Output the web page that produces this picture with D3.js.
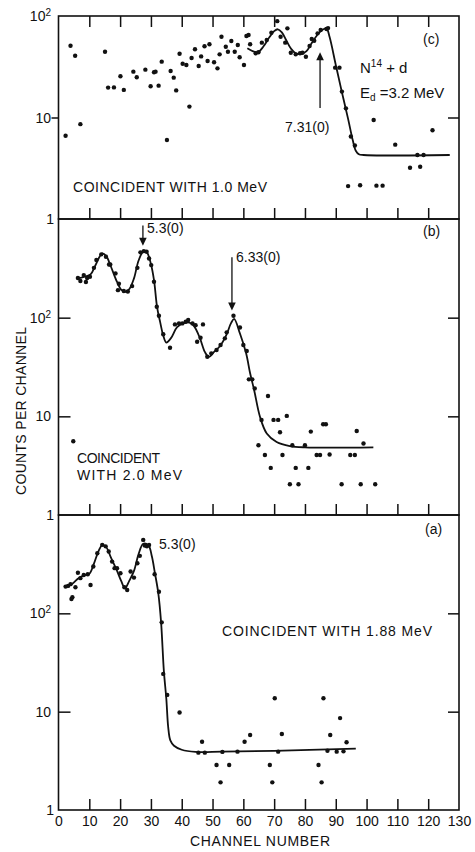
<!DOCTYPE html>
<html>
<head>
<meta charset="utf-8">
<script src="https://cdn.jsdelivr.net/npm/d3@7"></script>
<style>
  body { margin: 0; background: #fff; }
  svg { display: block; }
  text { font-family: "Liberation Sans", Arial, sans-serif; fill: #111; }
</style>
</head>
<body>
<svg id="chart" width="475" height="852"></svg>
<script>
// ---- data: [channel, counts per channel] ----
const channelTicks = [0, 10, 20, 30, 40, 50, 60, 70, 80, 90, 100, 110, 120, 130];
const innerTicks = [10, 20, 30, 40, 50, 60, 70, 80, 90, 100, 110, 120];

// (c) coincident with 1.0 MeV
const pointsC = [
  [2.3,6.6],[3.9,51],[5.4,40.6],[7.1,8.6],[15.1,44.5],[16.1,19.7],[18,19.8],[20.1,25.5],[21.2,18.7],
  [24.3,28.3],[25.4,24.9],[28.2,29.6],[29.9,20.3],[31,27.9],[31.5,28.3],[32.5,20.6],[33.5,35.5],
  [35.2,6.0],[36.4,28.7],[37.4,24.7],[38.2,18.5],[39.3,42.5],[40.3,33.9],[41.5,32.9],[42.5,12.8],
  [43.2,38.6],[44.3,47],[45.5,32.2],[46.3,40],[47.4,50.3],[48.4,36],[49,52.6],[50.5,35],[51.6,30.5],
  [52.3,41.9],[52.9,62.5],[54.3,49.8],[55,44.5],[56.1,56.7],[57.2,44.5],[58.2,51.8],[58.8,39.2],
  [60.2,32.9],[61,63.5],[61.7,65],[62.2,52.6],[64,42.9],[64.9,43.9],[66,54.6],[67.6,58],[69.1,68.5],
  [71,89],[72.1,62.5],[73.6,54.6],[74.3,75.6],[75.4,43.5],[77,41.9],[78.4,43],[79.2,43.5],[80.3,39.7],
  [81.5,50.6],[82.2,59.3],[83,57],[84.1,67.5],[85.1,72.8],[87,74.5],[87.5,76],[89.8,31],[91.2,31],
  [92,18],[93.3,12.3],[94.9,6.5],[96.2,5.3],[94,2.11],[97.9,2.15],[103.2,2.13],[105.2,2.13],
  [102.3,9.45],[109.3,5.4],[114.1,3.2],[117.4,3.27],[116.5,4.27],[118.5,4.27],[121.4,7.5]
];
const curveC = [
  [61.3,48],[63,45],[64.8,44],[66.5,50],[68.5,62],[70,71],[71.2,74],[72.5,69],[74,57],[75.5,47.5],
  [77,43],[79,42.5],[80.5,45],[82,53],[84,65],[85.8,73.5],[87,75.5],[88,62],[90,33],[92,17.7],
  [94,9.7],[95.5,6.0],[96.5,4.7],[97.5,4.35],[99,4.27],[127,4.27]
];

// (b) coincident with 2.0 MeV
const pointsB = [
  [4.8,5.6],[6.3,252],[7.1,235],[8.2,270],[8.9,230],[9.3,252],[10.2,260],[11.5,320],[12.3,384],
  [13.9,438],[15.4,414],[16.4,346],[16.8,346],[18.5,281],[19.6,221],[19.3,190],[21.2,186],[22.5,184],
  [23.9,209],[25.6,320],[26.6,459],[27.7,473],[28.6,467],[29.4,398],[30.1,341],[31,231],[31.9,129],
  [32.6,104.5],[34,67.8],[36.2,49.5],[37.8,85.5],[39.1,87.5],[40.2,87.5],[41.3,91],[42.1,94.6],
  [43.5,87.5],[44.5,84],[46.9,85.5],[45,57],[46.1,62.6],[48.3,40.2],[49.6,43.5],[51.3,47],[52.6,52.8],
  [54,61.7],[54.6,71],[56.8,104.5],[58.9,79.5],[60,52.8],[61.1,45.9],[61.8,23.7],[62.9,23.7],
  [63.7,19.2],[65.9,9.2],[68,16.1],[64.9,5.1],[67,4.05],[68.9,3.0],[69.8,9.2],[71.3,9.2],[72.7,4.05],
  [71.9,6.9],[74.1,10.1],[75.1,2.05],[75.9,5.1],[77,3.0],[77.9,2.05],[80,5.1],[81.1,3.0],[81.9,7.0],
  [83.8,4.05],[84.9,4.05],[85.9,8.3],[86.8,8.3],[88,4.1],[91.9,2.05],[94.7,4.05],[96.2,4.05],
  [96.8,7.1],[98.1,2.05],[99,5.3],[102.8,2.05]
];
const curveB = [
  [6,250],[8,258],[10.4,275],[12,340],[14.2,448],[15.5,420],[17,330],[19,230],[20.5,190],[21.8,183],
  [23,195],[24.5,250],[26,380],[27.5,465],[28.8,450],[30,350],[31,240],[32,128],[33,90],[34,66],
  [35,56],[36.5,62],[38.5,80],[40.7,88],[42.5,89],[44,82],[45.9,62],[47.5,45],[48.8,40],[50.5,45],
  [52.5,52],[54.5,67],[56,88],[57,97],[58.9,69],[60.9,43.5],[62.2,27.3],[63.5,18.5],[65.4,9.9],
  [67.6,6.7],[70.8,5.5],[75.1,5.0],[80,4.85],[102.2,4.85]
];

// (a) coincident with 1.88 MeV
const pointsA = [
  [2.3,187],[3.1,190],[3.9,198],[4.2,140],[4.5,146],[5.5,184],[6.3,259],[7.1,228],[8.2,245],[9.5,250],
  [10.4,194],[11.3,299],[12.6,408],[14.2,497],[15.3,480],[16.3,425],[17.4,336],[18.2,288],[19,288],
  [20.1,256],[21.4,184],[22.3,173],[23.4,266],[24.5,231],[25.6,323],[26.4,384],[27.5,558],[28,490],
  [28.7,480],[29.4,495],[31.2,250],[32.6,166],[33.5,81],[34,24.2],[35.3,14.8],[39.3,9.8],[46.6,4.95],
  [45.4,3.83],[47.5,3.83],[51.3,2.87],[55.4,2.87],[52.6,1.91],[53.2,3.9],[58.1,3.92],[60.4,4.95],
  [62.2,5.8],[68.6,2.87],[69.4,1.91],[70.2,13.7],[71.3,3.92],[72.5,5.93],[84.4,2.87],[85.4,1.91],
  [86,13.7],[87.3,4.0],[88.2,5.8],[90.3,3.92],[91.4,8.6],[92.5,3.95],[93.5,4.89]
];
const curveA = [
  [2.3,185],[4.5,200],[6.5,228],[8.5,245],[10,252],[11.5,320],[13,430],[14.2,495],[15.5,470],
  [17,370],[18.8,280],[20.3,215],[21.6,180],[23,215],[24.5,270],[26,400],[27.5,510],[29.2,490],
  [30.3,380],[31.3,256],[32.4,160],[33.3,81],[34.2,26],[35,13.5],[35.6,7.0],[36.3,5.1],[37.5,4.5],
  [40,4.1],[44.5,3.9],[53,3.92],[70,4.0],[96.5,4.2]
];

// level markers: channel, tail and tip in counts
const arrowsC = [{ ch: 84.9, from: 12.4, to: 44, label: "7.31(0)" }];
const arrowsB = [
  { ch: 27.4, from: 860, to: 535, label: "5.3(0)" },
  { ch: 56.3, from: 410, to: 118, label: "6.33(0)" }
];

// ---- layout ----
const svg = d3.select("#chart");
const left = 58.5, right = 459;
const x = d3.scaleLinear().domain([0, 130]).range([left, right]);

const panels = [
  { id: "c", top: 16, bottom: 219, max: 100, points: pointsC, curve: curveC, arrows: arrowsC,
    leftTicks: [10], rightTicks: [10], leftOut: true, topTicks: true, yLabels: [1, 10, 100] },
  { id: "b", top: 219, bottom: 515, max: 1000, points: pointsB, curve: curveB, arrows: arrowsB,
    leftTicks: [10, 100], rightTicks: [10, 100], leftOut: false, topTicks: false, yLabels: [1, 10, 100] },
  { id: "a", top: 515, bottom: 810, max: 1000, points: pointsA, curve: curveA, arrows: [],
    leftTicks: [10, 100], rightTicks: [10, 100], leftOut: false, topTicks: false, yLabels: [1, 10, 100] }
];

const ink = "#111";

panels.forEach(p => {
  const y = d3.scaleLog().domain([1, p.max]).range([p.bottom, p.top]);
  p.y = y;
  const g = svg.append("g");

  // frame
  g.append("rect")
    .attr("x", left).attr("y", p.top)
    .attr("width", right - left).attr("height", p.bottom - p.top)
    .attr("fill", "none").attr("stroke", ink).attr("stroke-width", 1.6);

  // channel ticks pointing inward from the bottom edge
  const bt = g.append("g").attr("transform", `translate(0,${p.bottom})`)
    .call(d3.axisBottom(x).tickValues(innerTicks).tickSize(-11).tickFormat(""));
  bt.select(".domain").remove();
  bt.selectAll("line").attr("stroke", ink).attr("stroke-width", 1.5);

  if (p.topTicks) {
    const tt = g.append("g").attr("transform", `translate(0,${p.top})`)
      .call(d3.axisTop(x).tickValues(innerTicks).tickSize(-11).tickFormat(""));
    tt.select(".domain").remove();
    tt.selectAll("line").attr("stroke", ink).attr("stroke-width", 1.5);
  }

  // count ticks
  const lt = g.append("g").attr("transform", `translate(${left},0)`)
    .call(d3.axisLeft(y).tickValues(p.leftTicks).tickSize(p.leftOut ? 7 : -12).tickFormat(""));
  lt.select(".domain").remove();
  lt.selectAll("line").attr("stroke", ink).attr("stroke-width", 1.5);

  const rt = g.append("g").attr("transform", `translate(${right},0)`)
    .call(d3.axisRight(y).tickValues(p.rightTicks).tickSize(-11).tickFormat(""));
  rt.select(".domain").remove();
  rt.selectAll("line").attr("stroke", ink).attr("stroke-width", 1.5);

  // count labels: 1, 10, 10^2
  p.yLabels.forEach(v => {
    const t = g.append("text")
      .attr("x", v === 1 ? 54 : 51).attr("y", y(v)).attr("dy", "0.36em")
      .attr("text-anchor", "end").attr("font-size", 14);
    if (v === 100) {
      t.append("tspan").text("10");
      t.append("tspan").attr("font-size", 10).attr("dy", -5).text("2");
    } else {
      t.text(String(v));
    }
  });

  // fitted curve
  const line = d3.line()
    .x(d => x(d[0])).y(d => y(d[1]))
    .curve(d3.curveCatmullRom.alpha(0.5));
  g.append("path").datum(p.curve)
    .attr("d", line).attr("fill", "none")
    .attr("stroke", ink).attr("stroke-width", 1.8).attr("stroke-linejoin", "round");

  // measured points
  g.selectAll("circle.pt").data(p.points).join("circle")
    .attr("class", "pt")
    .attr("cx", d => x(d[0])).attr("cy", d => y(d[1]))
    .attr("r", 2.2).attr("fill", ink);

  // level arrows
  p.arrows.forEach(a => {
    const ax = x(a.ch), y0 = y(a.from), y1 = y(a.to);
    const dir = y1 < y0 ? -1 : 1;
    g.append("line")
      .attr("x1", ax).attr("x2", ax).attr("y1", y0).attr("y2", y1 - dir * 7)
      .attr("stroke", ink).attr("stroke-width", 1.3);
    g.append("path")
      .attr("d", `M${ax},${y1} L${ax - 3.8},${y1 - dir * 8} L${ax + 3.8},${y1 - dir * 8} Z`)
      .attr("fill", ink);
  });
});

// axis labels along the bottom
const xl = svg.append("g").attr("transform", `translate(0,810)`)
  .call(d3.axisBottom(x).tickValues(channelTicks).tickSize(0).tickPadding(6).tickFormat(d => d));
xl.select(".domain").remove();
xl.selectAll("text").attr("font-size", 14).attr("fill", ink)
  .style("font-family", '"Liberation Sans", Arial, sans-serif');

svg.append("text").attr("x", 260).attr("y", 846).attr("text-anchor", "middle")
  .attr("font-size", 14).attr("textLength", 140).attr("lengthAdjust", "spacing")
  .text("CHANNEL NUMBER");

svg.append("text").attr("transform", "translate(26,411) rotate(-90)")
  .attr("text-anchor", "middle").attr("font-size", 14)
  .attr("textLength", 168).attr("lengthAdjust", "spacing")
  .text("COUNTS PER CHANNEL");

// panel captions
function label(txt, xPos, yPos, size, len) {
  const t = svg.append("text").attr("x", xPos).attr("y", yPos).attr("font-size", size).text(txt);
  if (len) t.attr("textLength", len).attr("lengthAdjust", "spacing");
  return t;
}
label("(c)", 423, 44, 14);
label("(b)", 423, 236, 14);
label("(a)", 425, 534, 14);

const react = svg.append("text").attr("x", 360).attr("y", 73).attr("font-size", 15);
react.append("tspan").text("N");
react.append("tspan").attr("font-size", 10).attr("dy", -6).text("14");
react.append("tspan").attr("dy", 6).text(" + d");

const energy = svg.append("text").attr("x", 360).attr("y", 98).attr("font-size", 15);
energy.append("tspan").text("E");
energy.append("tspan").attr("font-size", 10).attr("dy", 3).text("d");
energy.append("tspan").attr("dy", -3).text(" =3.2 MeV");

label("COINCIDENT  WITH  1.0  MeV", 73, 191.5, 14, 194);
label("COINCIDENT", 77, 463, 14, 83);
label("WITH  2.0  MeV", 77, 480, 14, 105);
label("COINCIDENT  WITH  1.88  MeV", 222, 636, 14, 210);

// state labels beside the arrows
label("7.31(0)", 285, 132, 14);
label("5.3(0)", 147, 233, 14);
label("6.33(0)", 236, 262, 14);
label("5.3(0)", 159, 549, 14);
</script>
</body>
</html>
